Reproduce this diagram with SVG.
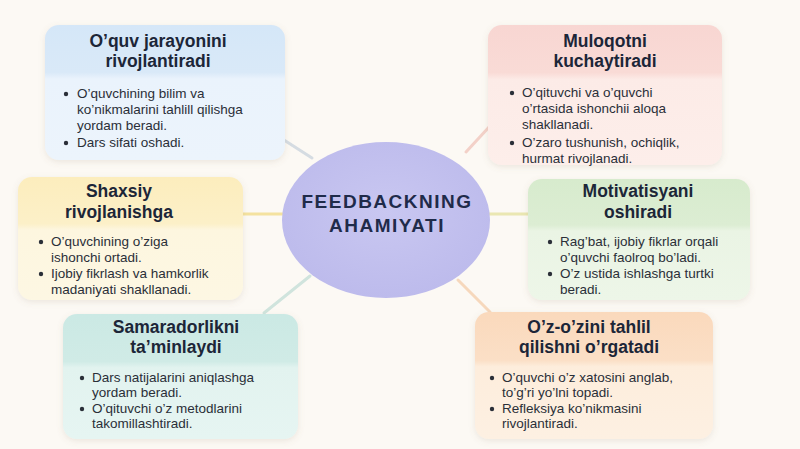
<svg xmlns="http://www.w3.org/2000/svg" width="800" height="449" viewBox="0 0 800 449">
<style>
.title{font-family:"Liberation Sans",Arial,sans-serif;font-weight:bold;font-size:17.5px;fill:#1c2638;text-anchor:middle}
.body{font-family:"Liberation Sans",Arial,sans-serif;font-size:13.5px;fill:#2a2f38}
.dot{fill:#2a2f38}
.center{font-family:"Liberation Sans",Arial,sans-serif;font-weight:bold;font-size:19px;letter-spacing:1.5px;fill:#1f2b4a;text-anchor:middle}
.conn{stroke-width:3;stroke-linecap:round;fill:none;opacity:0.75}
</style>
<defs>
<filter id="sh" x="-10%" y="-10%" width="120%" height="125%">
<feDropShadow dx="0" dy="2" stdDeviation="3" flood-color="#8a7a60" flood-opacity="0.15"/>
</filter>
<linearGradient id="g1" x1="0" y1="0" x2="0" y2="1"><stop offset="0" stop-color="#d5e7f8"/><stop offset="0.35" stop-color="#d9e9f8"/><stop offset="0.40" stop-color="#eaf3fc"/><stop offset="1" stop-color="#ecf4fc"/></linearGradient>
<linearGradient id="g2" x1="0" y1="0" x2="0" y2="1"><stop offset="0" stop-color="#f8d6d2"/><stop offset="0.34" stop-color="#f9dbd6"/><stop offset="0.39" stop-color="#fcebe7"/><stop offset="1" stop-color="#fdeeea"/></linearGradient>
<linearGradient id="g3" x1="0" y1="0" x2="0" y2="1"><stop offset="0" stop-color="#fcedbd"/><stop offset="0.38" stop-color="#fcf0c8"/><stop offset="0.43" stop-color="#fdf6df"/><stop offset="1" stop-color="#fdf7e3"/></linearGradient>
<linearGradient id="g4" x1="0" y1="0" x2="0" y2="1"><stop offset="0" stop-color="#d7ebcd"/><stop offset="0.38" stop-color="#dcedd3"/><stop offset="0.43" stop-color="#eaf4e4"/><stop offset="1" stop-color="#edf6e8"/></linearGradient>
<linearGradient id="g5" x1="0" y1="0" x2="0" y2="1"><stop offset="0" stop-color="#cbe9e4"/><stop offset="0.38" stop-color="#d0ebe6"/><stop offset="0.43" stop-color="#e2f3ef"/><stop offset="1" stop-color="#e6f5f2"/></linearGradient>
<linearGradient id="g6" x1="0" y1="0" x2="0" y2="1"><stop offset="0" stop-color="#fad9bc"/><stop offset="0.38" stop-color="#fbdfc6"/><stop offset="0.43" stop-color="#fdeddc"/><stop offset="1" stop-color="#fdf0e2"/></linearGradient>
<radialGradient id="gc" cx="0.5" cy="0.45" r="0.55"><stop offset="0" stop-color="#c9c7f1"/><stop offset="1" stop-color="#bdbbec"/></radialGradient>
</defs>
<rect x="0" y="0" width="800" height="449" fill="#fcf9f4"/>

<g id="connectors">
<line class="conn" x1="284" y1="140" x2="312" y2="158" stroke="#c8d2dc"/>
<line class="conn" x1="466" y1="152" x2="490" y2="126" stroke="#f0c3ba"/>
<line class="conn" x1="243" y1="214" x2="284" y2="214" stroke="#f2d983"/>
<line class="conn" x1="489" y1="214" x2="528" y2="214" stroke="#e4e09c"/>
<line class="conn" x1="310" y1="276" x2="264" y2="313" stroke="#c2dcd5"/>
<line class="conn" x1="458" y1="280" x2="490" y2="312" stroke="#f4cca9"/>
</g>

<g id="center">
<ellipse cx="386" cy="220" rx="104" ry="78" fill="url(#gc)"/>
<text class="center" x="387" y="208">FEEDBACKNING</text>
<text class="center" x="387" y="232">AHAMIYATI</text>
</g>

<g id="card1">
<rect x="45" y="25" width="240" height="135" rx="14" fill="url(#g1)" filter="url(#sh)"/>
<text class="title" x="158" y="47">O’quv jarayonini</text>
<text class="title" x="158" y="67">rivojlantiradi</text>
<circle class="dot" cx="66" cy="94" r="2.2"/>
<text class="body" x="77" y="98">O’quvchining bilim va</text>
<text class="body" x="77" y="114">ko’nikmalarini tahlill qilishga</text>
<text class="body" x="77" y="130">yordam beradi.</text>
<circle class="dot" cx="66" cy="143" r="2.2"/>
<text class="body" x="77" y="147">Dars sifati oshadi.</text>
</g>

<g id="card2">
<rect x="488" y="25" width="234" height="140" rx="14" fill="url(#g2)" filter="url(#sh)"/>
<text class="title" x="605" y="47">Muloqotni</text>
<text class="title" x="605" y="67">kuchaytiradi</text>
<circle class="dot" cx="512" cy="93" r="2.2"/>
<text class="body" x="522" y="97">O’qituvchi va o’quvchi</text>
<text class="body" x="522" y="113">o’rtasida ishonchii aloqa</text>
<text class="body" x="522" y="129">shakllanadi.</text>
<circle class="dot" cx="512" cy="143" r="2.2"/>
<text class="body" x="522" y="147">O’zaro tushunish, ochiqlik,</text>
<text class="body" x="522" y="163">hurmat rivojlanadi.</text>
</g>

<g id="card3">
<rect x="18" y="177" width="225" height="123" rx="14" fill="url(#g3)" filter="url(#sh)"/>
<text class="title" x="119" y="197">Shaxsiy</text>
<text class="title" x="119" y="218">rivojlanishga</text>
<circle class="dot" cx="41" cy="242" r="2.2"/>
<text class="body" x="51" y="246">O’quvchining o’ziga</text>
<text class="body" x="51" y="262">ishonchi ortadi.</text>
<circle class="dot" cx="41" cy="274" r="2.2"/>
<text class="body" x="51" y="278">Ijobiy fikrlash va hamkorlik</text>
<text class="body" x="51" y="294">madaniyati shakllanadi.</text>
</g>

<g id="card4">
<rect x="528" y="179" width="222" height="121" rx="14" fill="url(#g4)" filter="url(#sh)"/>
<text class="title" x="638" y="197">Motivatisyani</text>
<text class="title" x="638" y="218">oshiradi</text>
<circle class="dot" cx="550" cy="242" r="2.2"/>
<text class="body" x="560" y="246">Rag’bat, ijobiy fikrlar orqali</text>
<text class="body" x="560" y="262">o’quvchi faolroq bo’ladi.</text>
<circle class="dot" cx="550" cy="274" r="2.2"/>
<text class="body" x="560" y="278">O’z ustida ishlashga turtki</text>
<text class="body" x="560" y="294">beradi.</text>
</g>

<g id="card5">
<rect x="63" y="314" width="235" height="125" rx="14" fill="url(#g5)" filter="url(#sh)"/>
<text class="title" x="176" y="333">Samaradorlikni</text>
<text class="title" x="176" y="353">ta’minlaydi</text>
<circle class="dot" cx="82" cy="378" r="2.2"/>
<text class="body" x="92" y="382">Dars natijalarini aniqlashga</text>
<text class="body" x="92" y="397">yordam beradi.</text>
<circle class="dot" cx="82" cy="409" r="2.2"/>
<text class="body" x="92" y="413">O’qituvchi o’z metodlarini</text>
<text class="body" x="92" y="428">takomillashtiradi.</text>
</g>

<g id="card6">
<rect x="475" y="312" width="238" height="127" rx="14" fill="url(#g6)" filter="url(#sh)"/>
<text class="title" x="589" y="333">O’z-o’zini tahlil</text>
<text class="title" x="589" y="353">qilishni o’rgatadi</text>
<circle class="dot" cx="492" cy="378" r="2.2"/>
<text class="body" x="502" y="382">O’quvchi o’z xatosini anglab,</text>
<text class="body" x="502" y="397">to’g’ri yo’lni topadi.</text>
<circle class="dot" cx="492" cy="409" r="2.2"/>
<text class="body" x="502" y="413">Refleksiya ko’nikmasini</text>
<text class="body" x="502" y="428">rivojlantiradi.</text>
</g>
</svg>
